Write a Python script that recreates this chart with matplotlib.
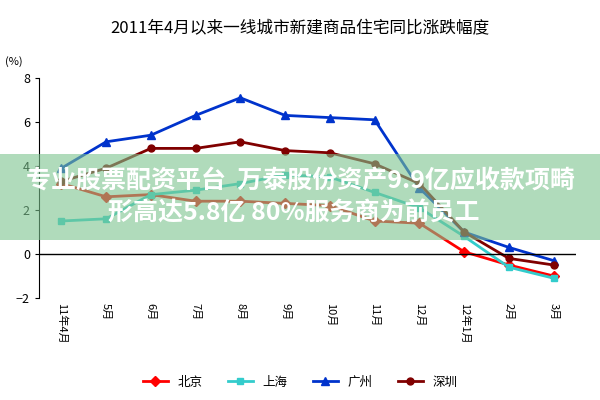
import matplotlib
matplotlib.use("Agg")
import matplotlib.pyplot as plt
from matplotlib.patches import Rectangle

plt.rcParams['font.family'] = ['Noto Sans CJK SC', 'DejaVu Sans']

months = ["11年4月", "5月", "6月", "7月", "8月", "9月", "10月", "11月", "12月", "12年1月", "2月", "3月"]
beijing = [3.2, 2.6, 2.7, 2.4, 2.4, 2.3, 2.2, 1.5, 1.4, 0.1, -0.5, -1.0]
shanghai = [1.5, 1.6, 2.7, 2.9, 3.2, 3.6, 3.5, 2.8, 2.1, 0.8, -0.6, -1.1]
guangzhou = [3.9, 5.1, 5.4, 6.3, 7.1, 6.3, 6.2, 6.1, 3.0, 1.0, 0.3, -0.3]
shenzhen = [3.3, 3.9, 4.8, 4.8, 5.1, 4.7, 4.6, 4.1, 3.2, 1.0, -0.2, -0.5]

fig = plt.figure(figsize=(6, 4), dpi=100)
ax = fig.add_axes([0.065, 0.255, 0.895, 0.55])
x = list(range(len(months)))
ax.plot(x, beijing, color="#FF0000", marker="D", ms=5, lw=2, label="北京")
ax.plot(x, shanghai, color="#33CCCC", marker="s", ms=5, lw=2, label="上海")
ax.plot(x, guangzhou, color="#0033CC", marker="^", ms=6, lw=2, label="广州")
ax.plot(x, shenzhen, color="#800000", marker="o", ms=5, lw=2, label="深圳")
ax.set_xlim(-0.5, 11.5)
ax.set_ylim(-2, 8)
ax.set_yticks([-2, 0, 2, 4, 6, 8])
ax.set_xticks(x)
ax.set_xticklabels(months, rotation=-90, fontsize=8)
ax.tick_params(axis='y', labelsize=9, length=3)
ax.tick_params(axis='x', length=0)
for s in ["top", "right", "bottom"]:
    ax.spines[s].set_visible(False)
ax.axhline(0, color="black", lw=1)
ax.text(-0.03, 1.06, "(%)", transform=ax.transAxes, fontsize=8, ha='right')
fig.suptitle("2011年4月以来一线城市新建商品住宅同比涨跌幅度", y=0.95, fontsize=12, fontweight="medium")
fig.legend(loc="lower center", ncol=4, frameon=False, fontsize=9, bbox_to_anchor=(0.5, 0.0))

fig.patches.append(Rectangle((0, 0.4), 1, 0.215, transform=fig.transFigure,
                             facecolor="#7CC48F", alpha=0.6, edgecolor="none", zorder=10))
fig.text(0.5, 0.545, "专业股票配资平台  万泰股份资产9.9亿应收款项畸", ha="center", va="center",
         fontsize=18, color="white", fontweight="bold", zorder=11)
fig.text(0.18, 0.465, "形高达5.8亿 80%服务商为前员工", ha="left", va="center",
         fontsize=18, color="white", fontweight="bold", zorder=11)
fig.savefig("out.png")
